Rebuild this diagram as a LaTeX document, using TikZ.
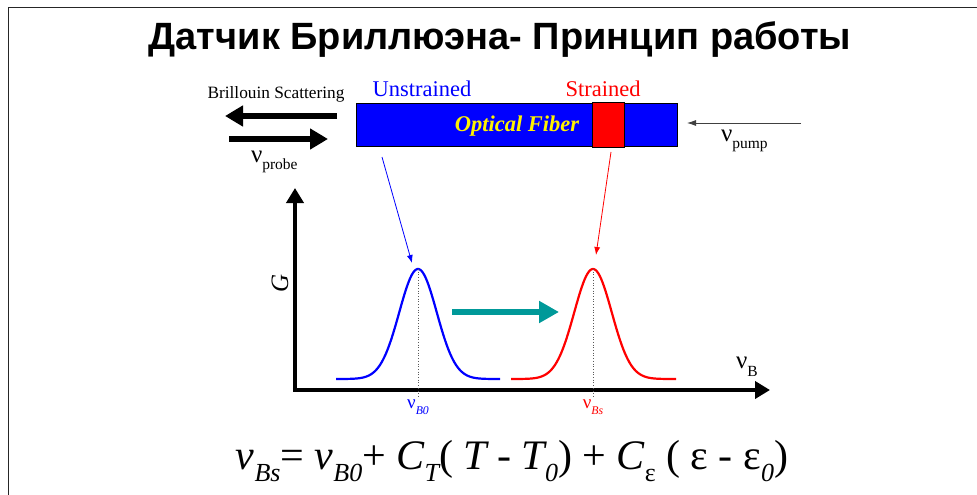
\documentclass[tikz,border=0pt]{standalone}
\usepackage{fontspec}
\setmainfont{Liberation Serif}
\newfontfamily\titlefont{Liberation Sans}
\usetikzlibrary{arrows.meta}
\definecolor{tealarrow}{RGB}{0,153,153}
\newcommand\fsz[1]{\fontsize{#1}{#1}\selectfont}
\newcommand\lowsub[1]{\raisebox{-0.3em}{\fontsize{0.62em}{0.62em}\selectfont #1}}
\tikzset{
  bigarrow/.style={line width=6pt,-{Triangle[length=18pt,width=20pt]}},
  axisarrow/.style={line width=4.5pt,-{Triangle[length=15pt,width=17pt]}},
  thinarrow/.style={line width=0.8pt,-{Latex[length=8pt,width=6pt]}},
  peakcurve/.style={line width=2.2pt},
  dotline/.style={dotted,line width=0.7pt,gray!70!black},
  lbl/.style={inner sep=0pt,outer sep=0pt}
}
\begin{document}
\begin{tikzpicture}[x=1pt,y=-1pt]
\useasboundingbox (0,0) rectangle (977,495);
\fill[white] (0,0) rectangle (977,495);
\draw[line width=1.5pt,black!85] (8.5,495) -- (8.5,7.5) -- (977,7.5);
% title
\node[lbl] (title) at (500,40) {\titlefont\bfseries\fsz{38}Датчик Бриллюэна- Принцип работы};
% fiber
\node[draw=black,line width=0.8pt,fill=blue,anchor=north west,minimum width=321pt,minimum height=43pt,inner sep=0pt] (fiber) at (356,103) {};
\node[draw=black,line width=0.8pt,fill=red,anchor=north west,minimum width=32pt,minimum height=45pt,inner sep=0pt] (strain) at (592,102) {};
\node[lbl,text=yellow] (oflbl) at (517,126) {\fsz{22.5}\bfseries\itshape Optical Fiber};
\node[lbl,text=blue] (unstr) at (422,89) {\fsz{22.5}Unstrained};
\node[lbl,text=red] (str) at (603,89) {\fsz{22.5}Strained};
% left side
\node[lbl] (bs) at (276,94) {\fsz{17.3}Brillouin Scattering};
\coordinate (la1) at (337,116);
\coordinate (la2) at (225,116);
\draw[bigarrow] (la1) -- (la2);
\coordinate (ra1) at (229,139);
\coordinate (ra2) at (328,139);
\draw[bigarrow] (ra1) -- (ra2);
\node[lbl,anchor=west] (probe) at (251,162) {\fsz{25}ν\lowsub{probe}};
% pump
\coordinate (pa1) at (801,123);
\coordinate (pa2) at (687,123);
\draw[line width=0.8pt,black!75,-{Latex[length=9pt,width=6pt]}] (pa1) -- (pa2);
\node[lbl,anchor=west] (pump) at (721,141) {\fsz{25}ν\lowsub{pump}};
% axes
\coordinate (orig) at (295,390);
\coordinate (ytip) at (295,188);
\coordinate (xtip) at (770,390);
\draw[axisarrow] ([yshift=2.25pt]orig) -- (ytip);
\draw[axisarrow] ([xshift=-2.25pt]orig) -- (xtip);
\node[lbl,rotate=90] (glbl) at (280,283) {\fsz{25}\itshape G};
\node[lbl,anchor=west] (nub) at (736,367) {\fsz{25}ν\lowsub{B}};
% peaks
\coordinate (p1) at (418,269);
\coordinate (p2) at (593,269);
\draw[blue,peakcurve] plot[domain=336:500,samples=120,smooth] (\x,{379-110*exp(-((\x-418)/26.5)^2)});
\draw[red,peakcurve] plot[domain=511:676,samples=120,smooth] (\x,{379-110*exp(-((\x-593)/26.5)^2)});
\coordinate (d1) at (418,396);
\coordinate (d2) at (593,396);
\draw[dotline] (p1) -- (d1);
\draw[dotline] (p2) -- (d2);
\node[lbl,text=blue] (nub0) at (418,407) {\fsz{19}ν\lowsub{\itshape B0}};
\node[lbl,text=red] (nubs) at (593,407) {\fsz{19}ν\lowsub{\itshape Bs}};
% pointer arrows
\coordinate (b1) at (382,157);
\coordinate (b2) at (412,263);
\draw[thinarrow,blue] (b1) -- (b2);
\coordinate (r1) at (611,152);
\coordinate (r2) at (596,255);
\draw[thinarrow,red] (r1) -- (r2);
% shift arrow
\coordinate (t1) at (452,312);
\coordinate (t2) at (559,312);
\draw[line width=6pt,tealarrow,-{Triangle[length=20pt,width=21pt]}] (t1) -- (t2);
% equation
\node[lbl] (eq) at (512,461) {\fsz{42}\itshape ν\lowsub{Bs}\upshape= \itshape ν\lowsub{B0}\upshape+ \itshape C\lowsub{T}\upshape( \itshape T\upshape\ - \itshape T\lowsub{0}\upshape) + \itshape C\lowsub{\upshape ε}\upshape\ ( ε - ε\lowsub{\itshape 0}\upshape)};
\end{tikzpicture}
\end{document}
